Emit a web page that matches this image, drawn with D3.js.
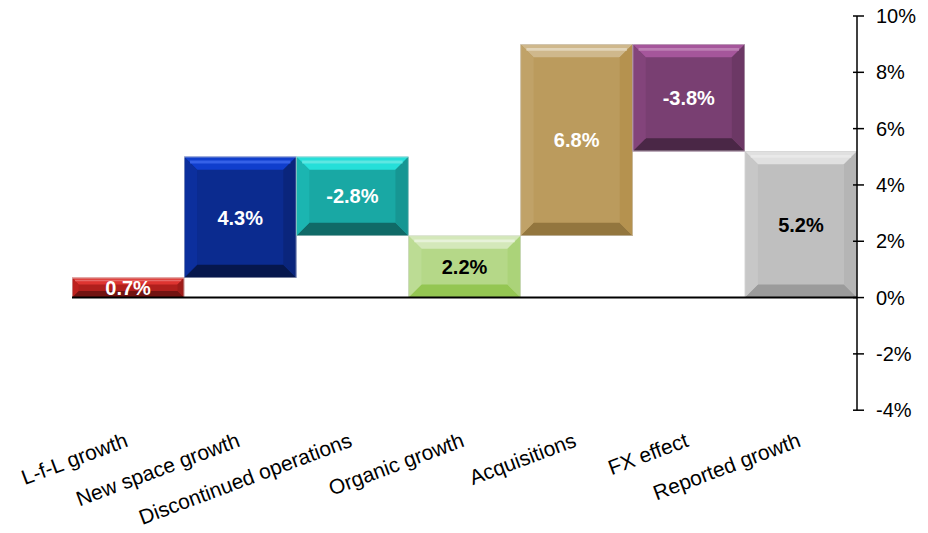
<!DOCTYPE html>
<html>
<head>
<meta charset="utf-8">
<script src="https://cdn.jsdelivr.net/npm/d3@7"></script>
<style>
  html, body { margin: 0; padding: 0; background: #fff; }
  svg { display: block; font-family: "Liberation Sans", Arial, sans-serif; }
</style>
</head>
<body>
<svg id="chart" width="928" height="533"></svg>
<script>
// Growth bridge: each step's change in percentage points
const categories = ["L-f-L growth", "New space growth", "Discontinued operations",
                    "Organic growth", "Acquisitions", "FX effect", "Reported growth"];
const changes   = [0.7, 4.3, -2.8, 2.2, 6.8, -3.8, 5.2];
// true = bar starts at zero (subtotal), false = floats from the running total
const isTotal   = [true, false, false, true, false, false, true];
const barColors = ["#b01f1c", "#0b2b8f", "#19a8a4", "#b5d888", "#bb9b5d", "#793f72", "#bfbfbf"];
const labelColors = ["#fff", "#fff", "#fff", "#000", "#fff", "#fff", "#000"];
const yTicks = [-4, -2, 0, 2, 4, 6, 8, 10];

const svg = d3.select("#chart");
const margin = { left: 72, right: 71, top: 16, bottom: 122 };
const W = 928, H = 533;

const x = d3.scaleBand().domain(categories)
  .range([margin.left, W - margin.right]).paddingInner(0).paddingOuter(0);
const y = d3.scaleLinear().domain([-4, 10]).range([H - margin.bottom - 0.8, margin.top]);

const pct = v => d3.format(".1f")(v).replace("\u2212", "-") + "%";

// running totals for the floating segments
let running = 0;
const bars = categories.map((c, i) => {
  let start, end;
  if (isTotal[i]) { start = 0; end = changes[i]; running = end; }
  else { start = running; end = running + changes[i]; running = end; }
  return { c, i, lo: Math.min(start, end), hi: Math.max(start, end), v: changes[i] };
});

// bevelled bar: face plus four sloped edges
const g = svg.append("g");
bars.forEach(d => {
  const x0 = x(d.c), x1 = x(d.c) + x.bandwidth();
  const y0 = y(d.hi), y1 = y(d.lo);
  const h = y1 - y0, w = x1 - x0;
  const b = Math.min(13, h / 3);
  const base = d3.color(barColors[d.i]);
  const hsl = d3.hsl(base);
  const lighten = k => { const c = d3.hsl(hsl); c.l = Math.min(0.93, c.l + k); return c.formatHex(); };
  const darken = k => { const c = d3.hsl(hsl); c.l = Math.max(0, c.l - k); return c.formatHex(); };

  const bar = g.append("g");
  const poly = (pts, fill) => bar.append("polygon")
    .attr("points", pts.map(p => p.join(",")).join(" ")).attr("fill", fill);

  poly([[x0, y0], [x1, y0], [x1, y1], [x0, y1]], base.formatHex());
  poly([[x0, y0], [x1, y0], [x1 - b, y0 + b], [x0 + b, y0 + b]], lighten(0.13));
  poly([[x0, y1], [x1, y1], [x1 - b, y1 - b], [x0 + b, y1 - b]], darken(0.14));
  poly([[x0, y0], [x0 + b, y0 + b], [x0 + b, y1 - b], [x0, y1]], lighten(0.03));
  poly([[x1, y0], [x1 - b, y0 + b], [x1 - b, y1 - b], [x1, y1]], darken(0.04));
  // bright rim along the top edge
  bar.append("line")
    .attr("x1", x0 + b * 0.45).attr("x2", x1 - b * 0.45)
    .attr("y1", y0 + b * 0.4).attr("y2", y0 + b * 0.4)
    .attr("stroke", lighten(0.3)).attr("stroke-width", Math.max(1, b * 0.22))
    .attr("opacity", 0.75);
  bar.append("rect")
    .attr("x", x0 + 0.25).attr("y", y0 + 0.25)
    .attr("width", w - 0.5).attr("height", h - 0.5)
    .attr("fill", "none").attr("stroke", "#d4d4d4").attr("stroke-width", 0.5);

  g.append("text")
    .attr("x", (x0 + x1) / 2).attr("y", (y0 + y1) / 2)
    .attr("dy", "0.36em")
    .attr("text-anchor", "middle")
    .attr("font-size", 20).attr("font-weight", "bold")
    .attr("fill", labelColors[d.i])
    .text(pct(d.v));
});

// zero baseline
svg.append("line")
  .attr("x1", margin.left).attr("x2", W - margin.right)
  .attr("y1", y(0)).attr("y2", y(0))
  .attr("stroke", "#000").attr("stroke-width", 2);

// right-hand value axis with crossing ticks
const axisX = W - margin.right;
const ax = svg.append("g");
ax.append("line").attr("x1", axisX).attr("x2", axisX)
  .attr("y1", y(10)).attr("y2", y(-4)).attr("stroke", "#000").attr("stroke-width", 1.5);
yTicks.forEach(t => {
  ax.append("line").attr("x1", axisX - 4).attr("x2", axisX + 7)
    .attr("y1", y(t)).attr("y2", y(t)).attr("stroke", "#000").attr("stroke-width", 1.5);
  ax.append("text").attr("x", axisX + 19).attr("y", y(t)).attr("dy", "0.35em")
    .attr("font-size", 20).attr("fill", "#000").text(t + "%");
});

// slanted category labels, baseline ending under each bar centre
svg.append("g").selectAll("text").data(categories).join("text")
  .attr("transform", c => `translate(${x(c) + x.bandwidth() / 2 + 1},${446}) rotate(-20.5)`)
  .attr("text-anchor", "end")
  .attr("font-size", 21).attr("fill", "#000")
  .text(c => c);
</script>
</body>
</html>
